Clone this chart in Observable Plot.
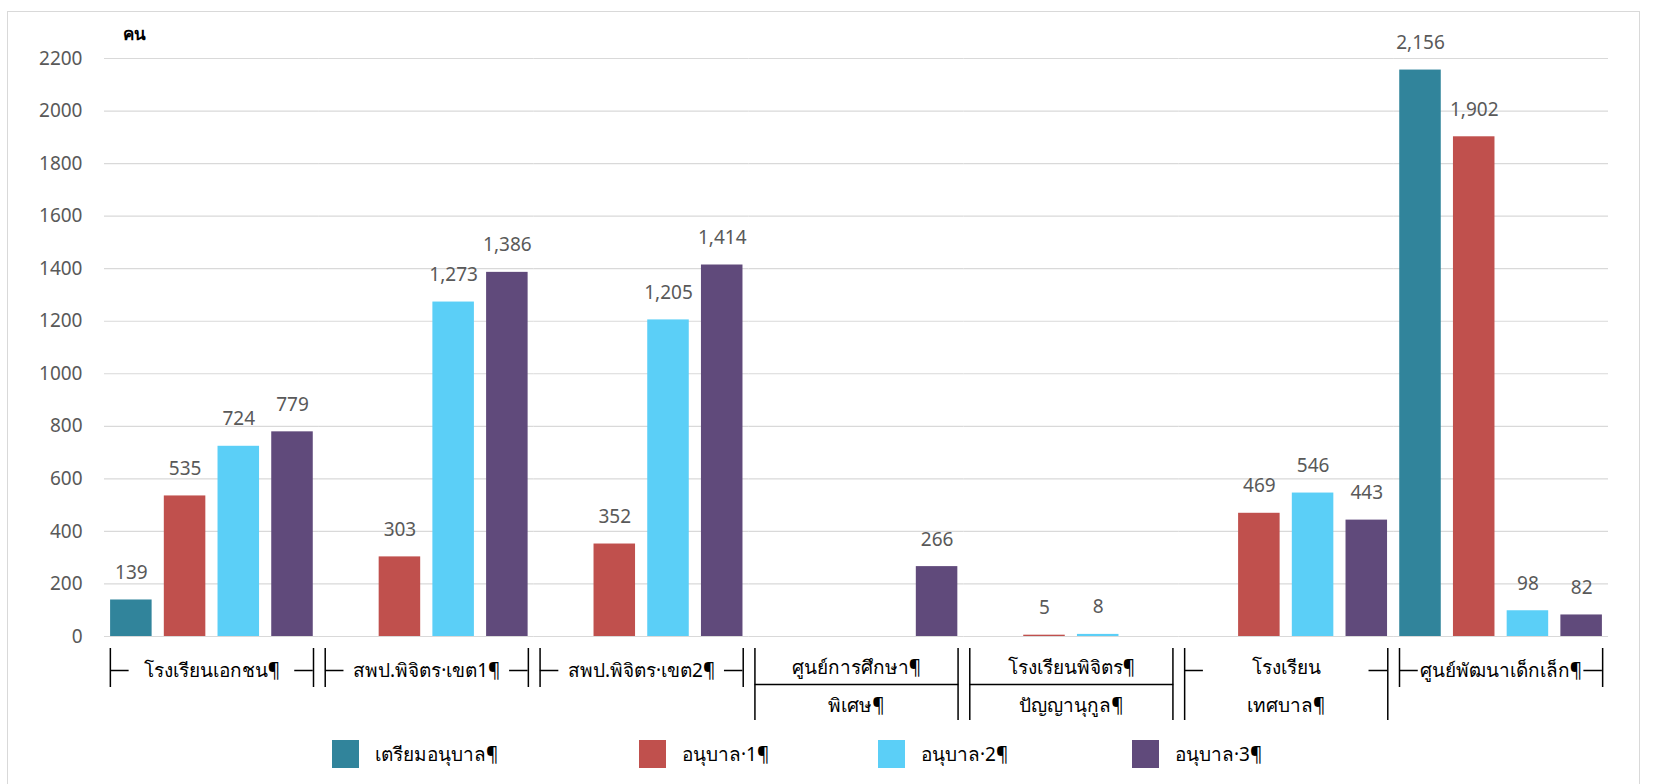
<!DOCTYPE html>
<html>
<head>
<meta charset="utf-8">
<script src="https://cdn.jsdelivr.net/npm/d3@7"></script>
<script src="https://cdn.jsdelivr.net/npm/@observablehq/plot@0.6"></script>
<style>
  html, body { margin: 0; padding: 0; background: #fff; }
  body { width: 1654px; height: 784px; position: relative; overflow: hidden; font-family: "Noto Sans", "Open Sans", sans-serif; }
  #frame { position: absolute; left: 7px; top: 11px; width: 1633px; height: 800px; border: 1px solid #d9d9d9; box-sizing: border-box; }
  #chart { position: absolute; left: 0; top: 0; }
  #unit { position: absolute; left: 123px; top: 20px; font-size: 17px; font-weight: bold; color: #000; }
  #legend { position: absolute; left: 332px; top: 739px; display: flex; align-items: center; font-size: 19px; color: #000; }
  .item { display: flex; align-items: center; }
  .sw { width: 27px; height: 28px; margin-right: 16px; }
</style>
</head>
<body>
<div id="frame"></div>
<div id="chart"></div>
<div id="unit">คน</div>
<div id="legend"></div>
<script>
// ---- data ----
const categories = [
  "โรงเรียนเอกชน¶",
  "สพป.พิจิตร·เขต1¶",
  "สพป.พิจิตร·เขต2¶",
  "ศูนย์การศึกษา¶\nพิเศษ¶",
  "โรงเรียนพิจิตร¶\nปัญญานุกูล¶",
  "โรงเรียน\nเทศบาล¶",
  "ศูนย์พัฒนาเด็กเล็ก¶"
];
const seriesNames = ["เตรียมอนุบาล¶", "อนุบาล·1¶", "อนุบาล·2¶", "อนุบาล·3¶"];
const preK = [139, null, null, null, null, null, 2156];
const k1   = [535, 303, 352, null, 5, 469, 1902];
const k2   = [724, 1273, 1205, null, 8, 546, 98];
const k3   = [779, 1386, 1414, 266, null, 443, 82];
const yTicks = [0, 200, 400, 600, 800, 1000, 1200, 1400, 1600, 1800, 2000, 2200];
const colors = ["#31849B", "#C0504D", "#5BCFF7", "#604A7B"];

// ---- build table ----
const seriesValues = [preK, k1, k2, k3];
const rows = [];
categories.forEach((c, i) => seriesNames.forEach((s, j) => {
  const v = seriesValues[j][i];
  if (v != null) rows.push({cat: c, series: s, value: v});
}));
const catRows = categories.map(c => ({cat: c, lines: c.split("\n")}));
const lineRows = catRows.flatMap(d => d.lines.map((t, k) => ({cat: d.cat, t, k, n: d.lines.length})));
const dividerCats = new Set([categories[3], categories[4]]);
const dashCats = catRows.filter(d => !dividerCats.has(d.cat));

const W = 1654, H = 730, mTop = 58, mBottom = H - 636;
const pxPerUnit = (636 - mTop) / 2200;
const below = px => -px / pxPerUnit; // offset below the baseline, in data units
const fmt = d3.format(",");

const plot = Plot.plot({
  width: W, height: H,
  marginLeft: 104, marginRight: 46, marginTop: mTop, marginBottom: mBottom,
  style: {fontFamily: "'Noto Sans', 'Open Sans', sans-serif", fontSize: "19px", color: "#595959", background: "transparent"},
  fx: {domain: categories, padding: 0, round: false, axis: null, label: null},
  x: {domain: seriesNames, paddingInner: 0.227, paddingOuter: 0.1135, round: false, axis: null},
  y: {domain: [0, 2200], ticks: yTicks, tickSize: 0, tickPadding: 22, label: null, tickFormat: d3.format("d")},
  color: {domain: seriesNames, range: colors},
  marks: [
    Plot.ruleY(yTicks, {stroke: "#d9d9d9", strokeWidth: 1.2}),
    Plot.barY(rows, {fx: "cat", x: "series", y: "value", fill: "series"}),
    Plot.text(rows, {fx: "cat", x: "series", y: "value", text: d => fmt(d.value), dy: -27, fill: "#595959", fontSize: 19}),
    // category "table" under the axis
    Plot.ruleX(catRows, {fx: "cat", x: () => seriesNames[0], dx: -21, y1: below(12), y2: d => below(d.lines.length > 1 ? 84 : 51), stroke: "#000", strokeWidth: 1.5}),
    Plot.ruleX(catRows, {fx: "cat", x: () => seriesNames[3], dx: 21, y1: below(12), y2: d => below(d.lines.length > 1 ? 84 : 51), stroke: "#000", strokeWidth: 1.5}),
    Plot.ruleY(catRows.filter(d => dividerCats.has(d.cat)), {fx: "cat", y: () => below(48), insetLeft: 6, insetRight: 5, stroke: "#000", strokeWidth: 1.5}),
    Plot.tickY(dashCats, {fx: "cat", x: () => seriesNames[0], y: () => below(34), insetRight: 23, stroke: "#000", strokeWidth: 1.5}),
    Plot.tickY(dashCats, {fx: "cat", x: () => seriesNames[3], y: () => below(34), insetLeft: 23, stroke: "#000", strokeWidth: 1.5}),
    Plot.text(lineRows, {fx: "cat", y: d => below(d.n === 1 ? 34 : (d.k === 0 ? 31 : 69)), text: "t", fill: "#000", fontSize: 19})
  ]
});
document.getElementById("chart").appendChild(plot);

// legend
const legend = document.getElementById("legend");
const itemWidths = [307, 239, 254, null];
seriesNames.forEach((s, i) => {
  const it = document.createElement("div");
  it.className = "item";
  if (itemWidths[i]) it.style.width = itemWidths[i] + "px";
  const sw = document.createElement("div");
  sw.className = "sw";
  sw.style.background = colors[i];
  const tx = document.createElement("span");
  tx.textContent = s;
  it.appendChild(sw); it.appendChild(tx);
  legend.appendChild(it);
});
</script>
</body>
</html>
